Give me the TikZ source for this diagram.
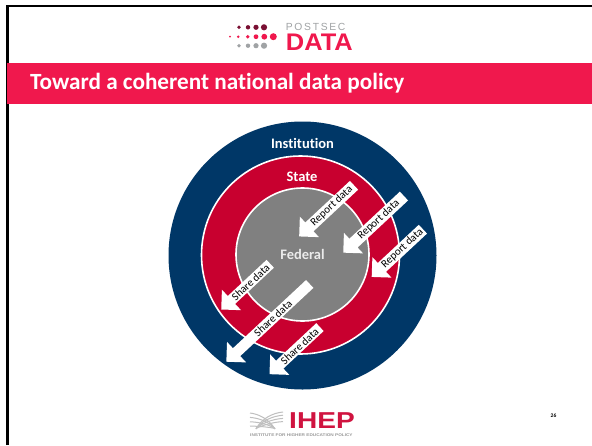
\documentclass[tikz,border=0pt]{standalone}
\usepackage{fontspec}
\setmainfont[Ligatures=NoCommon]{Carlito}
\newfontfamily\logofont{Liberation Sans}
\usetikzlibrary{shapes.arrows}
\definecolor{banner}{HTML}{F0184D}
\definecolor{navyring}{HTML}{003767}
\definecolor{redring}{HTML}{C8002F}
\definecolor{fedgray}{HTML}{808080}
\definecolor{dotdark}{HTML}{7A1033}
\definecolor{dotgray}{HTML}{A0A3A5}
\definecolor{ihepred}{HTML}{D01440}
\tikzset{
  x=1pt,y=-1pt,
  ring/.style={circle,draw=white,line width=1.6pt,inner sep=0pt},
  ringlabel/.style={text=white,font=\bfseries\fontsize{14.5}{14.5}\selectfont},
  flow/.style={single arrow,shape border rotate=180,rotate=43,fill=white,inner sep=0pt,
    minimum width=28pt,single arrow head extend=6.5pt,single arrow tip angle=90,
    font=\fontsize{11}{11}\selectfont,text=black,anchor=center},
  ddot/.style={circle,inner sep=0pt,fill=dotdark},
  rdot/.style={circle,inner sep=0pt,fill=banner},
  gdot/.style={circle,inner sep=0pt,fill=dotgray},
  strand/.style={draw=black!25,line width=1pt}
}
\begin{document}
\begin{tikzpicture}
\useasboundingbox (0,0) rectangle (592,445);
\fill[white] (0,0) rectangle (592,445);
% frame
\draw[black,line width=2.2pt] (7.5,445) -- (7.5,6.2) -- (592,6.2);
% banner
\fill[banner] (7,62.5) rectangle (592,103.5);
\node[anchor=west,text=white,inner sep=0pt,font=\bfseries\fontsize{23.2}{23.2}\selectfont] (title) at (30,83) {Toward a coherent national data policy};
% top logo dots
\foreach \n/\x/\r in {a/239/1.9,b/248/2.2,c/256/2.6,d/264/3.1}{\node[ddot,minimum size=2*\r pt] (d\n) at (\x,27.3) {};}
\foreach \n/\x/\r in {a/230/1,b/238.3/1.4,c/247.7/1.9,d/256/2.4,e/264.3/2.9,f/273.3/3.5}{\node[rdot,minimum size=2*\r pt] (r\n) at (\x,36.7) {};}
\foreach \n/\x/\r in {a/239/1.9,b/248/2.2,c/256/2.6,d/264/3.1}{\node[gdot,minimum size=2*\r pt] (g\n) at (\x,45.7) {};}
\node[anchor=west,inner sep=0pt,text=dotgray,font=\logofont\fontsize{10.3}{10.3}\selectfont] (postsec) at (285.7,26.8) {P\,O\,S\,T\,S\,E\,C};
\node[anchor=west,inner sep=0pt,xscale=1.06,text=banner,font=\logofont\bfseries\fontsize{24}{24}\selectfont] (datal) at (285.7,42.7) {DATA};
% circles
\node[ring,draw=none,fill=navyring,minimum size=268pt] (institution) at (302.5,255.5) {};
\node[ring,fill=redring,minimum size=198pt] (state) at (300.5,255) {};
\node[ring,fill=fedgray,minimum size=133pt] (federal) at (302.5,254.5) {};
\node[ringlabel] (instlabel) at (302.5,143) {Institution};
\node[ringlabel] (statelabel) at (302,176.7) {State};
\node[ringlabel,text=white!92!black] (fedlabel) at (302.5,254.7) {Federal};
% arrows
\node[flow,minimum height=75pt] (r1) at (328.8,208.8) {\hspace{8pt}Report data};
\node[flow,minimum height=83pt] (r2) at (375.8,222.3) {\hspace{8pt}Report data};
\node[flow,minimum height=70pt] (r3) at (399.5,251) {\hspace{8pt}Report data};
\node[flow,minimum height=67pt] (s1) at (247.7,284.8) {\hspace{8pt}Share data};
\node[flow,minimum height=114pt] (s2) at (270,321) {\hspace{8pt}Share data};
\node[flow,minimum height=69pt] (s3) at (296.7,348.8) {\hspace{8pt}Share data};
% bottom logo
\foreach \i in {0,1,2,3}{
  \draw[strand] (250,{413+\i*4.4}) .. controls (258,{414+\i*4}) and (268,{418+\i*3}) .. (275,{429-\i*0.2});
  \draw[strand] (283,{412+\i*3.2}) .. controls (273,{413+\i*3}) and (262,{418+\i*2.5}) .. (256,{429-\i*0.2});
}
\node[anchor=west,inner sep=0pt,xscale=1.22,text=ihepred,font=\logofont\bfseries\fontsize{23}{23}\selectfont] (ihep) at (289,420.5) {IHEP};
\node[anchor=west,inner sep=0pt,xscale=1.2,text=black!40,font=\logofont\bfseries\fontsize{3.9}{3.9}\selectfont] (ihepsub) at (250,435) {INSTITUTE FOR HIGHER EDUCATION POLICY};
\node[inner sep=0pt,font=\bfseries\fontsize{5.5}{5.5}\selectfont] (pageno) at (553.5,416) {26};
\end{tikzpicture}
\end{document}
